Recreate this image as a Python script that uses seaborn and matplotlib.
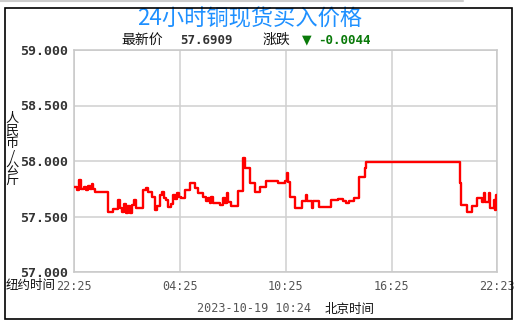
import matplotlib
matplotlib.use("Agg")
import matplotlib.pyplot as plt
import seaborn as sns
import pandas as pd
from matplotlib.patches import Rectangle
from matplotlib.lines import Line2D

# ---- data (minutes after 22:25 New York time, price CNY/kg) ----
minutes = [0, 10, 17, 24, 34, 41, 48, 54, 61, 65, 71, 116, 133, 150, 156, 163, 170,
           177, 184, 190, 197, 204, 211, 235, 245, 252, 265, 275, 282, 292, 299, 306,
           313, 320, 330, 337, 343, 350, 357, 364, 377, 394, 411, 422, 439, 449, 456,
           462, 466, 473, 496, 507, 513, 520, 524, 534, 558, 575, 581, 598, 615, 632,
           653, 694, 717, 724, 728, 734, 751, 775, 789, 792, 809, 813, 833, 874, 898,
           915, 925, 935, 952, 969, 988, 993, 1312, 1316, 1336, 1353, 1370, 1387,
           1394, 1397, 1411, 1414, 1428, 1431, 1435, 1438]
prices = [57.766, 57.739, 57.829, 57.748, 57.766, 57.739, 57.775, 57.748, 57.793,
          57.748, 57.721, 57.541, 57.568, 57.649, 57.577, 57.541, 57.613, 57.532,
          57.595, 57.532, 57.604, 57.649, 57.577, 57.739, 57.757, 57.721, 57.676,
          57.559, 57.595, 57.694, 57.721, 57.667, 57.649, 57.586, 57.613, 57.694,
          57.658, 57.712, 57.676, 57.667, 57.739, 57.802, 57.757, 57.712, 57.676,
          57.640, 57.667, 57.622, 57.676, 57.622, 57.604, 57.667, 57.622, 57.712,
          57.631, 57.595, 57.730, 58.027, 57.937, 57.802, 57.721, 57.766, 57.820,
          57.802, 57.820, 57.892, 57.811, 57.676, 57.577, 57.640, 57.694, 57.640,
          57.577, 57.640, 57.586, 57.649, 57.658, 57.640, 57.622, 57.640, 57.667,
          57.856, 57.937, 57.995, 57.802, 57.604, 57.541, 57.595, 57.667, 57.631,
          57.712, 57.631, 57.712, 57.577, 57.649, 57.559, 57.691, 57.691]

x_tick_pos = [0, 360, 720, 1080, 1438]
x_tick_labels = ["22:25", "04:25", "10:25", "16:25", "22:23"]
y_ticks = [57.0, 57.5, 58.0, 58.5, 59.0]
y_tick_labels = ["57.000", "57.500", "58.000", "58.500", "59.000"]

title = "24小时铜现货买入价格"
latest_label, latest_value = "最新价", "57.6909"
change_label, change_value = "涨跌", "-0.0044"
y_label = "人民币/公斤"
ny_label = "纽约时间"
stamp, bj_label = "2023-10-19 10:24", "北京时间"

df = pd.DataFrame({"minute": minutes, "price": prices})

sns.set_style("white")
plt.rcParams["font.family"] = ["Noto Sans CJK SC", "DejaVu Sans"]

W, H = 522, 327
fig = plt.figure(figsize=(W / 100, H / 100), dpi=100)
ax = fig.add_axes([74 / W, (H - 272) / H, (497 - 74) / W, (272 - 50) / H])

sns.lineplot(data=df, x="minute", y="price", ax=ax, color="#ff0000",
             linewidth=1.7, drawstyle="steps-post", zorder=3)

ax.set_xlim(0, 1438)
ax.set_ylim(57.0, 59.0)
ax.set_xticks(x_tick_pos)
ax.set_xticklabels(x_tick_labels, family="DejaVu Sans Mono", fontsize=8.5, color="#555555")
ax.set_yticks(y_ticks)
ax.set_yticklabels(y_tick_labels, family="DejaVu Sans Mono", fontsize=9.5,
                   fontweight="bold", color="#333333")
ax.tick_params(axis="both", length=0, pad=4)
ax.tick_params(axis="x", pad=6)
ax.grid(True, color="#d0d0d0", linewidth=1.1)
ax.set_axisbelow(True)
for s in ax.spines.values():
    s.set_color("#c8c8c8")
    s.set_linewidth(1.1)
ax.set_xlabel("")
ax.set_ylabel("")

def fx(px):
    return px / W

def fy(py):
    return (H - py) / H

# outer frame
fig.patches.append(Rectangle((fx(5), fy(319)), 507 / W, 311 / H, transform=fig.transFigure,
                             fill=False, edgecolor="black", linewidth=1.2, zorder=10))
fig.lines.append(Line2D([0, fx(463)], [fy(1), fy(1)], transform=fig.transFigure,
                        color="#cccccc", linewidth=1.5))

# title
fig.text(fx(250), fy(19), title, ha="center", va="center", fontsize=16, color="#1e90ff")

# latest price row
fig.text(fx(121), fy(40), latest_label, ha="left", va="center", fontsize=10, color="#111111")
fig.text(fx(180), fy(40), latest_value, ha="left", va="center", fontsize=9,
         family="DejaVu Sans Mono", fontweight="bold", color="#333333")
fig.text(fx(263), fy(40), change_label, ha="left", va="center", fontsize=10, color="#111111")
fig.text(fx(302), fy(40), "▼", ha="left", va="center", fontsize=9,
         family="DejaVu Sans", color="#0a7a0a")
fig.text(fx(318), fy(40), change_value, ha="left", va="center", fontsize=9,
         family="DejaVu Sans Mono", fontweight="bold", color="#0a7a0a")

# vertical y label (stacked characters)
fig.text(fx(12), fy(150), "\n".join(y_label), ha="center", va="center", fontsize=9.5,
         color="#111111", linespacing=0.95)

# bottom labels
fig.text(fx(56), fy(285), ny_label, ha="right", va="center", fontsize=9, color="#111111")
fig.text(fx(197), fy(309), stamp, ha="left", va="center", fontsize=8.5,
         family="DejaVu Sans Mono", color="#555555")
fig.text(fx(325), fy(309), bj_label, ha="left", va="center", fontsize=9, color="#111111")

fig.savefig("out.png", dpi=100, facecolor="white")
